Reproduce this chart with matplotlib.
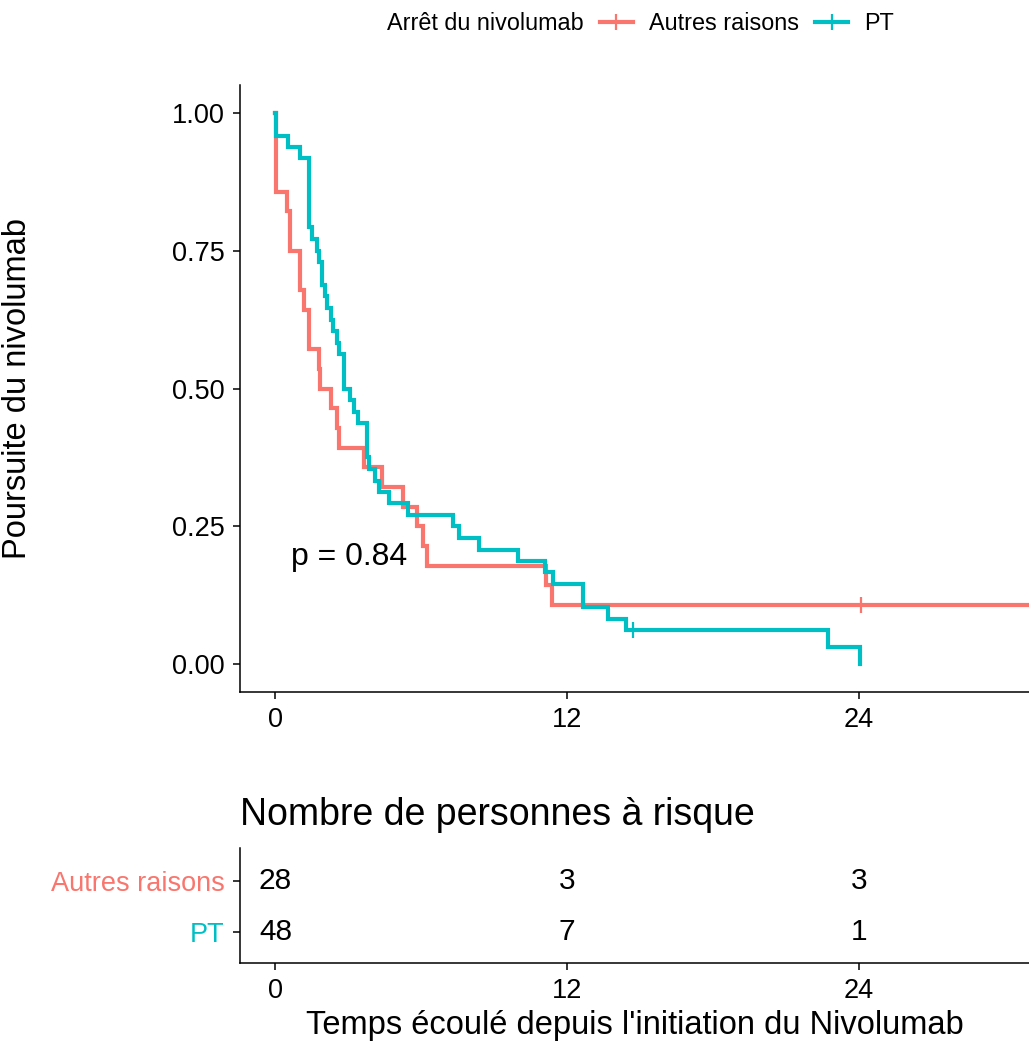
import matplotlib
matplotlib.use("Agg")
import matplotlib.pyplot as plt
from matplotlib.lines import Line2D

plt.rcParams['font.family'] = ['Liberation Sans', 'DejaVu Sans']

# ---- data ----
autres_t = [0, 0.03, 0.48, 0.61, 1.00, 1.19, 1.37, 1.78, 1.84, 2.28, 2.53, 2.60,
            3.65, 4.37, 5.26, 5.84, 6.05, 6.24, 11.13, 11.37, 31.5]
autres_s = [1.000, 0.857, 0.821, 0.750, 0.679, 0.643, 0.571, 0.536, 0.500, 0.464,
            0.429, 0.393, 0.357, 0.321, 0.286, 0.250, 0.214, 0.179, 0.143, 0.107, 0.107]
autres_cens_t = [24.07]
autres_cens_s = [0.107]

pt_t = [0, 0.03, 0.50, 1.00, 1.39, 1.50, 1.71, 1.80, 1.91, 2.02, 2.12, 2.28, 2.36,
        2.53, 2.62, 2.83, 3.07, 3.21, 3.41, 3.76, 3.85, 4.10, 4.24, 4.65, 5.47,
        7.31, 7.55, 8.37, 9.97, 11.09, 11.41, 12.66, 13.70, 14.44, 22.72, 24.05]
pt_s = [1.000, 0.958, 0.938, 0.917, 0.792, 0.771, 0.750, 0.729, 0.688, 0.667, 0.646,
        0.625, 0.604, 0.583, 0.563, 0.500, 0.479, 0.458, 0.438, 0.375, 0.354, 0.333,
        0.313, 0.292, 0.271, 0.250, 0.229, 0.208, 0.188, 0.167, 0.146, 0.104, 0.083,
        0.063, 0.031, 0.000]
pt_cens_t = [14.71]
pt_cens_s = [0.063]

strata = ["Autres raisons", "PT"]
colors = ["#F8766D", "#00BFC4"]
risk_times = [0, 12, 24]
risk_autres = [28, 3, 3]
risk_pt = [48, 7, 1]
pval_text = "p = 0.84"
x_ticks = [0, 12, 24]
y_ticks = [0.00, 0.25, 0.50, 0.75, 1.00]

XLIM = (-1.46, 31.0)
LW = 3.0
AX_LW = 1.1

fig = plt.figure(figsize=(10.29, 10.44), dpi=100)
W, H = 1029, 1044

# ---- main survival axes ----
ax = fig.add_axes([240 / W, 1 - 692 / H, (W - 240) / W, (692 - 85) / H])
ax.step(autres_t, autres_s, where='post', color=colors[0], lw=LW, solid_joinstyle='miter')
ax.plot(autres_cens_t, autres_cens_s, ls='none', marker='+', ms=12, mew=1.6, color=colors[0])
ax.step(pt_t, pt_s, where='post', color=colors[1], lw=LW, solid_joinstyle='miter')
ax.plot(pt_cens_t, pt_cens_s, ls='none', marker='+', ms=12, mew=1.6, color=colors[1])

ax.set_xlim(*XLIM)
ax.set_ylim(-0.05, 1.05)
ax.set_xticks(x_ticks)
ax.set_yticks(y_ticks)
ax.set_yticklabels([f"{v:.2f}" for v in y_ticks])
for s in ['top', 'right']:
    ax.spines[s].set_visible(False)
for s in ['left', 'bottom']:
    ax.spines[s].set_linewidth(AX_LW)
ax.tick_params(axis='both', labelsize=19.5, width=AX_LW, length=5, direction='out', pad=6)
ax.set_ylabel("Poursuite du nivolumab", fontsize=23.5)
ax.yaxis.set_label_coords(-0.262, 0.5)
ax.text(0.62, 0.195, pval_text, fontsize=23, ha='left', va='center')

# ---- legend ----
fig.text(387 / W, 1 - 24 / H, "Arrêt du nivolumab", fontsize=16.8, ha='left', va='center')
handles = [Line2D([], [], color=c, lw=LW, marker='+', ms=12, mew=1.6) for c in colors]
fig.legend(handles, strata, loc='center left', bbox_to_anchor=(600 / W, 1 - 24 / H),
           ncol=2, frameon=False, fontsize=16.8, handlelength=1.4, handletextpad=0.7,
           columnspacing=0.7, borderpad=0, borderaxespad=0)

# ---- risk table ----
axt = fig.add_axes([240 / W, 1 - 963 / H, (W - 240) / W, (963 - 848) / H])
ypos = {"Autres raisons": 2, "PT": 1}
for name, vals in zip(strata, [risk_autres, risk_pt]):
    for t, v in zip(risk_times, vals):
        axt.text(t, ypos[name], str(v), ha='center', va='center', fontsize=21.5)
axt.set_xlim(*XLIM)
axt.set_ylim(0.4, 2.65)
axt.set_xticks(x_ticks)
axt.set_yticks([ypos[s] for s in strata])
axt.set_yticklabels(strata)
for lbl, c in zip(axt.get_yticklabels(), colors):
    lbl.set_color(c)
for s in ['top', 'right']:
    axt.spines[s].set_visible(False)
for s in ['left', 'bottom']:
    axt.spines[s].set_linewidth(AX_LW)
axt.tick_params(axis='both', labelsize=19.5, width=AX_LW, length=5, direction='out', pad=6)
axt.set_xlabel("Temps écoulé depuis l'initiation du Nivolumab", fontsize=23.5)
axt.xaxis.label.set_va('center')
axt.xaxis.set_label_coords(0.5, -0.54)
axt.text(0, 1.29, "Nombre de personnes à risque", transform=axt.transAxes,
         fontsize=27, ha='left', va='center')

fig.savefig("out.png", dpi=100)
